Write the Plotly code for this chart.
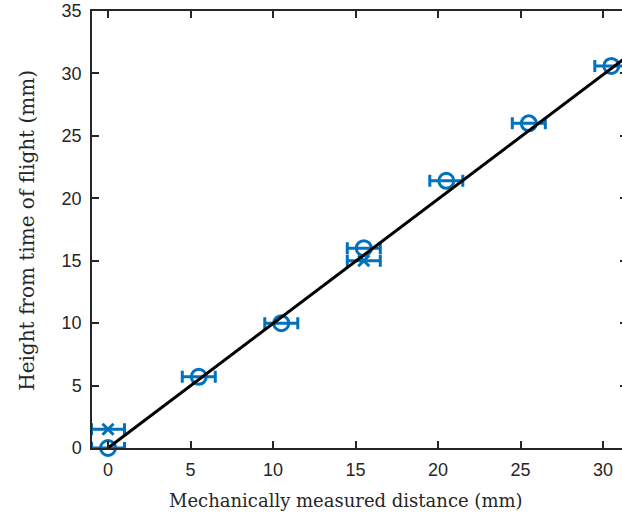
import plotly.graph_objects as go

circ_x = [0, 5.5, 10.5, 15.5, 20.5, 25.5, 30.5]
circ_y = [0, 5.7, 10.0, 16.0, 21.4, 26.0, 30.6]
cross_x = [0, 15.5]
cross_y = [1.5, 15.0]
x_err = 1.0
fit_x = [0, 31.45]
fit_y = [0, 31.35]
x_ticks = [0, 5, 10, 15, 20, 25, 30]
y_ticks = [0, 5, 10, 15, 20, 25, 30, 35]

blue = "#0072BD"
fig = go.Figure()
fig.add_trace(go.Scatter(x=cross_x, y=cross_y, mode="markers",
    marker=dict(symbol="x-thin", size=11, line=dict(color=blue, width=3), color=blue),
    error_x=dict(type="constant", value=x_err, color=blue, thickness=3, width=6),
    showlegend=False, cliponaxis=False))
fig.add_trace(go.Scatter(x=circ_x, y=circ_y, mode="markers",
    marker=dict(symbol="circle-open", size=15, line=dict(color=blue, width=3), color=blue),
    error_x=dict(type="constant", value=x_err, color=blue, thickness=3, width=6),
    showlegend=False, cliponaxis=False))
fig.add_trace(go.Scatter(x=fit_x, y=fit_y, mode="lines",
    line=dict(color="black", width=3), showlegend=False))

axis_common = dict(showline=True, linecolor="#262626", linewidth=1.5, ticks="inside",
    ticklen=7, tickcolor="#262626", tickwidth=1.5, showgrid=False, zeroline=False,
    automargin=False, mirror="ticks",
    tickfont=dict(family="Liberation Sans, Arial", size=18, color="#262626"))
fig.update_xaxes(range=[-0.97, 31.45], tickvals=x_ticks, ticklabelstandoff=5, **axis_common)
fig.update_yaxes(range=[0, 35], tickvals=y_ticks, ticklabelstandoff=5, **axis_common)
fig.add_annotation(text="Mechanically measured distance (mm)", xref="paper", yref="paper",
    x=(346 - 92) / 535, y=-0.12, xanchor="center", yanchor="middle", showarrow=False,
    font=dict(family="DejaVu Serif", size=18, color="#262626"))
fig.add_annotation(text="Height from time of flight (mm)", xref="paper", yref="paper",
    x=-(92 - 27) / 535, y=0.497, xanchor="center", yanchor="middle", showarrow=False, textangle=-90,
    font=dict(family="DejaVu Serif", size=20, color="#262626"))
fig.update_layout(width=628, height=519, margin=dict(l=92, r=1, t=11, b=71),
    plot_bgcolor="white", paper_bgcolor="white")
fig.write_html("out.html", config={"displayModeBar": False},
               post_script="document.body.style.margin='0px';document.body.style.overflow='hidden';")
